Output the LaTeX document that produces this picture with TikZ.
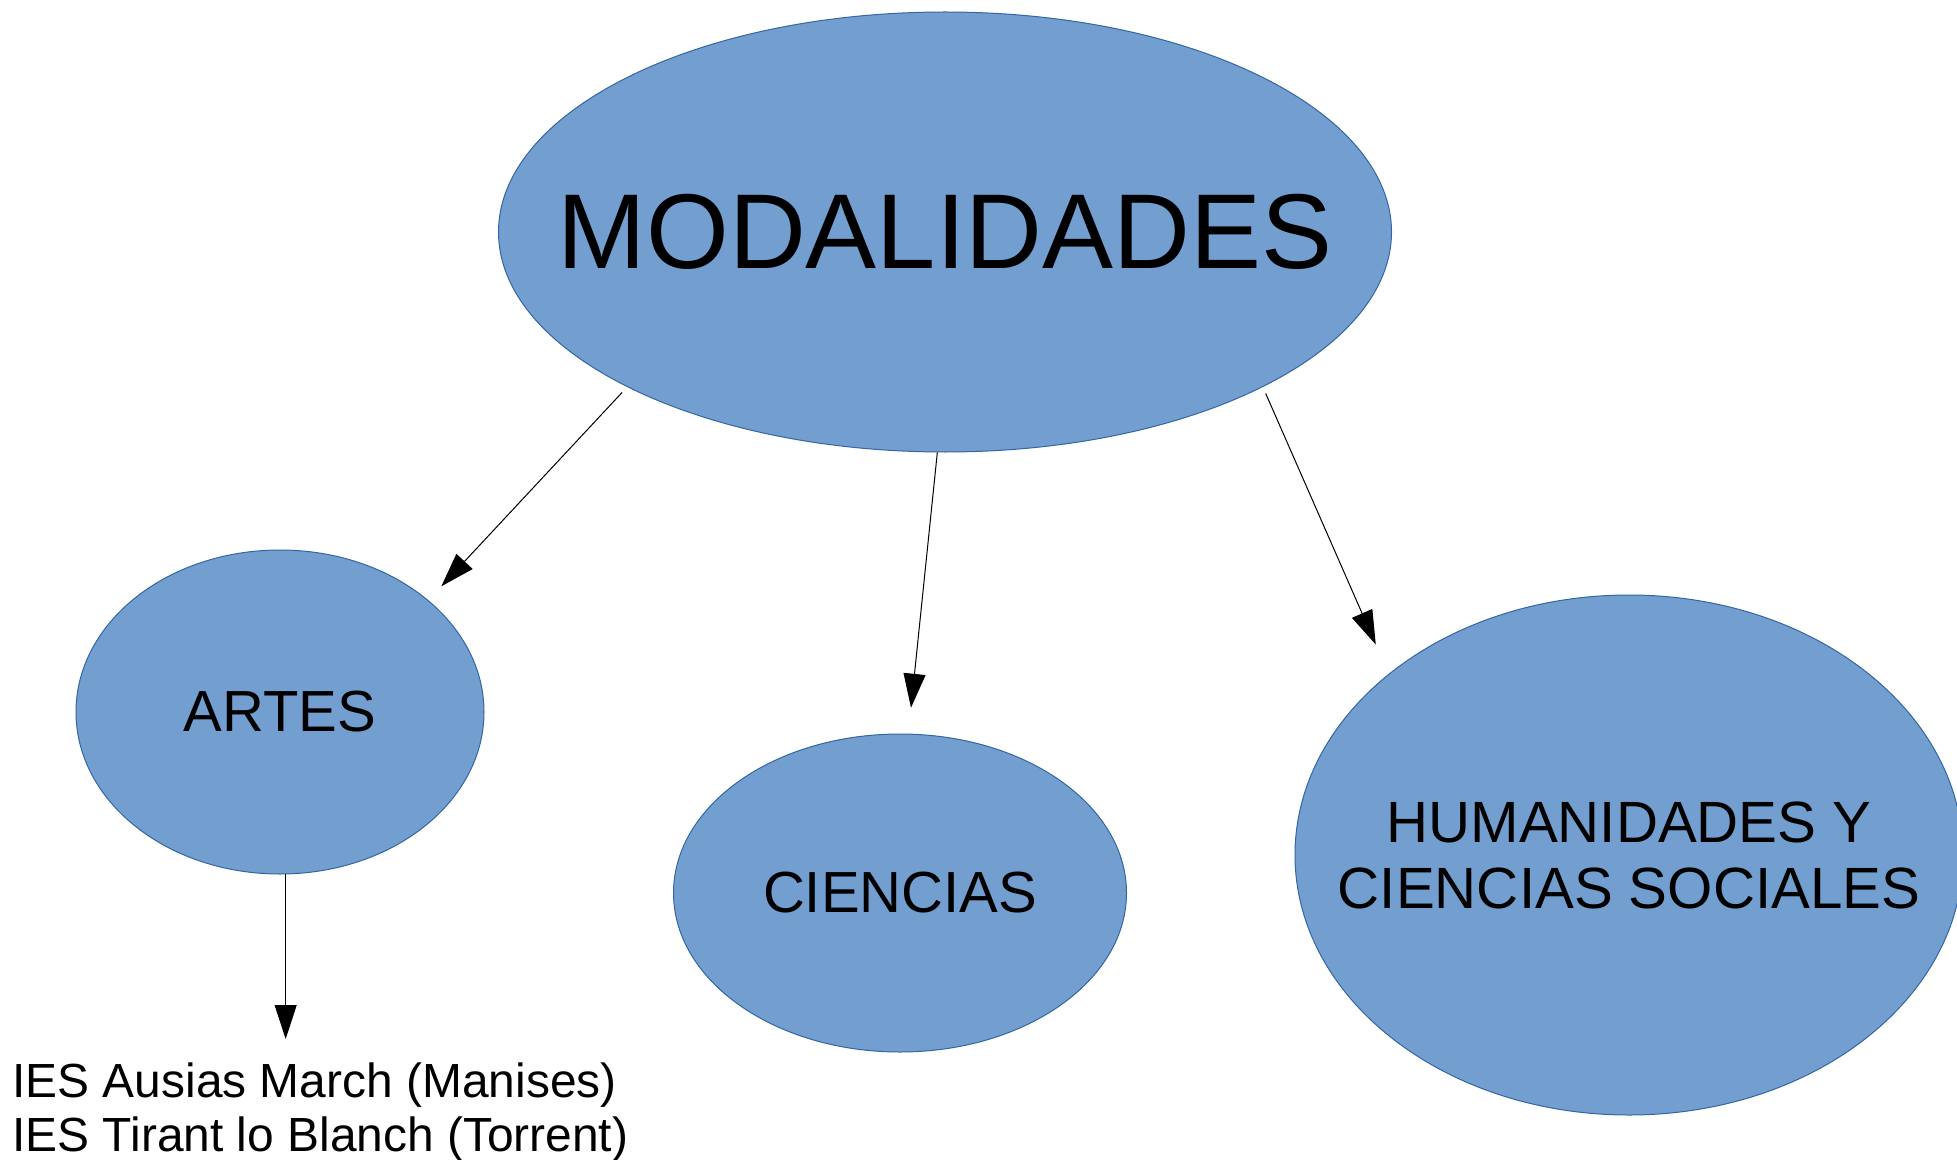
\documentclass[tikz,border=0pt]{standalone}
\usepackage{fontspec}
\setmainfont{Liberation Sans}
\usetikzlibrary{arrows.meta}
\usetikzlibrary{shapes.geometric}

\definecolor{azulmodo}{HTML}{729FCF}
\definecolor{bordemodo}{HTML}{3465A4}

\begin{document}
\begin{tikzpicture}[x=0.5pt,y=-0.5pt,
    modo/.style={ellipse,draw=bordemodo,fill=azulmodo,line width=0.5pt,inner sep=0pt},
    flecha/.style={-{Triangle[length=17pt,width=11pt]},line width=0.5pt,black}]
  \useasboundingbox (0,0) rectangle (1957,1160);
  % modalidades
  \node[modo,minimum width=446.5pt,minimum height=220pt] (modalidades) at (945,232)
    {\fontsize{53.2}{60}\selectfont\makebox[0pt]{MODALIDADES}};
  % las tres ramas
  \node[modo,minimum width=204pt,minimum height=162pt] (artes) at (280,712)
    {\fontsize{29}{33}\selectfont\makebox[0pt]{ARTES}};
  \node[modo,minimum width=226.5pt,minimum height=159pt] (ciencias) at (900,893)
    {\fontsize{29}{33}\selectfont\makebox[0pt]{CIENCIAS}};
  \node[modo,minimum width=334pt,minimum height=260pt] (humanidades) at (1629,855)
    {\fontsize{29.1}{33}\selectfont\makebox[0pt]{\rule{0pt}{30.6pt}\begin{tabular}[t]{@{}c@{}}HUMANIDADES Y\\CIENCIAS SOCIALES\end{tabular}}};
  % institutos
  \node[anchor=north west,inner sep=0pt,align=left,font=\fontsize{23.95}{27}\selectfont] (ies) at (12,1062)
    {IES Ausias March (Manises)\\IES Tirant lo Blanch (Torrent)};
  % flechas
  \draw[flecha,shorten <=3.7pt,shorten >=9.5pt] (modalidades.206) -- (artes.37);
  \draw[flecha,shorten >=13pt] (modalidades.268) -- (ciencias.87.6);
  \draw[flecha,shorten <=3.5pt,shorten >=16pt] (modalidades.334) -- (humanidades.143.5);
  \draw[flecha,shorten >=11.5pt] (artes.272) -- (artes.272 |- ies.north);
\end{tikzpicture}
\end{document}
